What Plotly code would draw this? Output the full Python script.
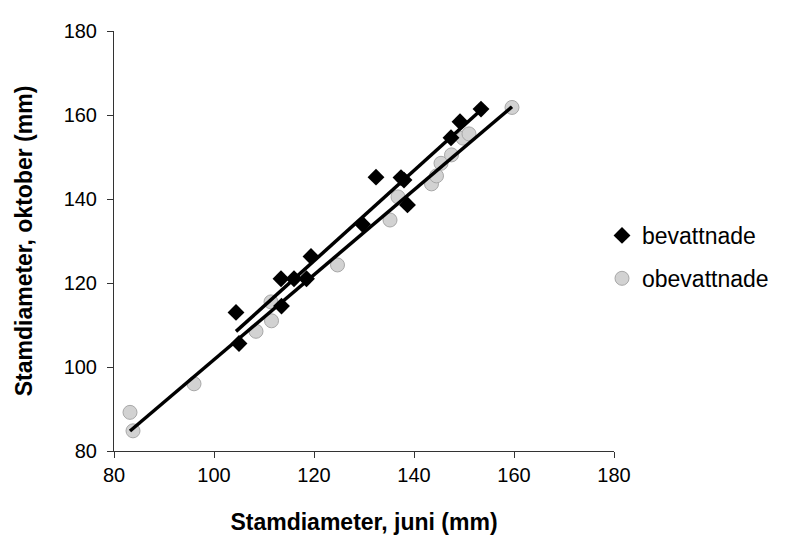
import numpy as np
import plotly.graph_objects as go

# bevattnade (irrigated): diameter in June vs October (mm)
bev_juni = [104.4, 105.0, 113.4, 113.5, 116.0, 118.5, 119.4, 129.7, 132.4, 137.4, 138.0, 138.7, 147.4, 149.2, 153.4]
bev_okt = [113.0, 105.6, 121.0, 114.5, 121.0, 121.0, 126.3, 134.0, 145.2, 145.1, 144.5, 138.6, 154.6, 158.4, 161.4]

# obevattnade (non-irrigated)
obev_juni = [83.2, 83.8, 96.0, 108.4, 111.5, 111.4, 124.7, 135.2, 136.8, 143.5, 144.5, 145.4, 147.5, 149.8, 151.0, 159.6]
obev_okt = [89.2, 84.8, 96.0, 108.5, 111.0, 115.5, 124.3, 135.0, 140.5, 143.6, 145.5, 148.5, 150.5, 154.5, 155.5, 161.8]

ticks = [80, 100, 120, 140, 160, 180]
x_title = "Stamdiameter, juni (mm)"
y_title = "Stamdiameter, oktober (mm)"
names = ["bevattnade", "obevattnade"]

FONT = "Liberation Sans, Arial, sans-serif"


def trend(xs, ys):
    k, m = np.polyfit(xs, ys, 1)
    x0, x1 = min(xs), max(xs)
    return [x0, x1], [k * x0 + m, k * x1 + m]


fig = go.Figure()

fig.add_trace(go.Scatter(
    x=obev_juni, y=obev_okt, mode="markers", name=names[1],
    legendrank=2, legendgroup="b",
    marker=dict(symbol="circle", size=14, color="#d2d2d2",
                line=dict(color="#a8a8a8", width=1)),
))

tx, ty = trend(obev_juni, obev_okt)
fig.add_trace(go.Scatter(x=tx, y=ty, mode="lines", showlegend=False,
                         line=dict(color="black", width=3.5), hoverinfo="skip"))
tx, ty = trend(bev_juni, bev_okt)
fig.add_trace(go.Scatter(x=tx, y=ty, mode="lines", showlegend=False,
                         line=dict(color="black", width=3.5), hoverinfo="skip"))

fig.add_trace(go.Scatter(
    x=bev_juni, y=bev_okt, mode="markers", name=names[0],
    legendrank=1, legendgroup="a",
    marker=dict(symbol="diamond", size=13, color="black"),
))

axis_common = dict(
    range=[80, 180], tickvals=ticks, ticktext=[str(t) for t in ticks],
    showgrid=False, zeroline=False, showline=True, linecolor="#333333",
    linewidth=1, ticks="outside", ticklen=6, tickcolor="#333333",
    tickfont=dict(family=FONT, size=20, color="black"),
)

fig.update_xaxes(**axis_common,
                 title=dict(text=x_title, standoff=28,
                            font=dict(family=FONT, size=23, color="black", weight="bold")))
fig.update_yaxes(**axis_common, ticklabelstandoff=6,
                 title=dict(text=y_title, standoff=24,
                            font=dict(family=FONT, size=23, color="black", weight="bold")))

fig.update_layout(
    width=802, height=542,
    margin=dict(l=106, r=196, t=17, b=99),
    paper_bgcolor="white", plot_bgcolor="white",
    showlegend=True,
    legend=dict(x=0.976, xanchor="left", y=0.462, yanchor="middle",
                font=dict(family=FONT, size=23, color="black"),
                traceorder="grouped", tracegroupgap=10,
                bgcolor="rgba(0,0,0,0)"),
)

fig.write_html("out.html")
